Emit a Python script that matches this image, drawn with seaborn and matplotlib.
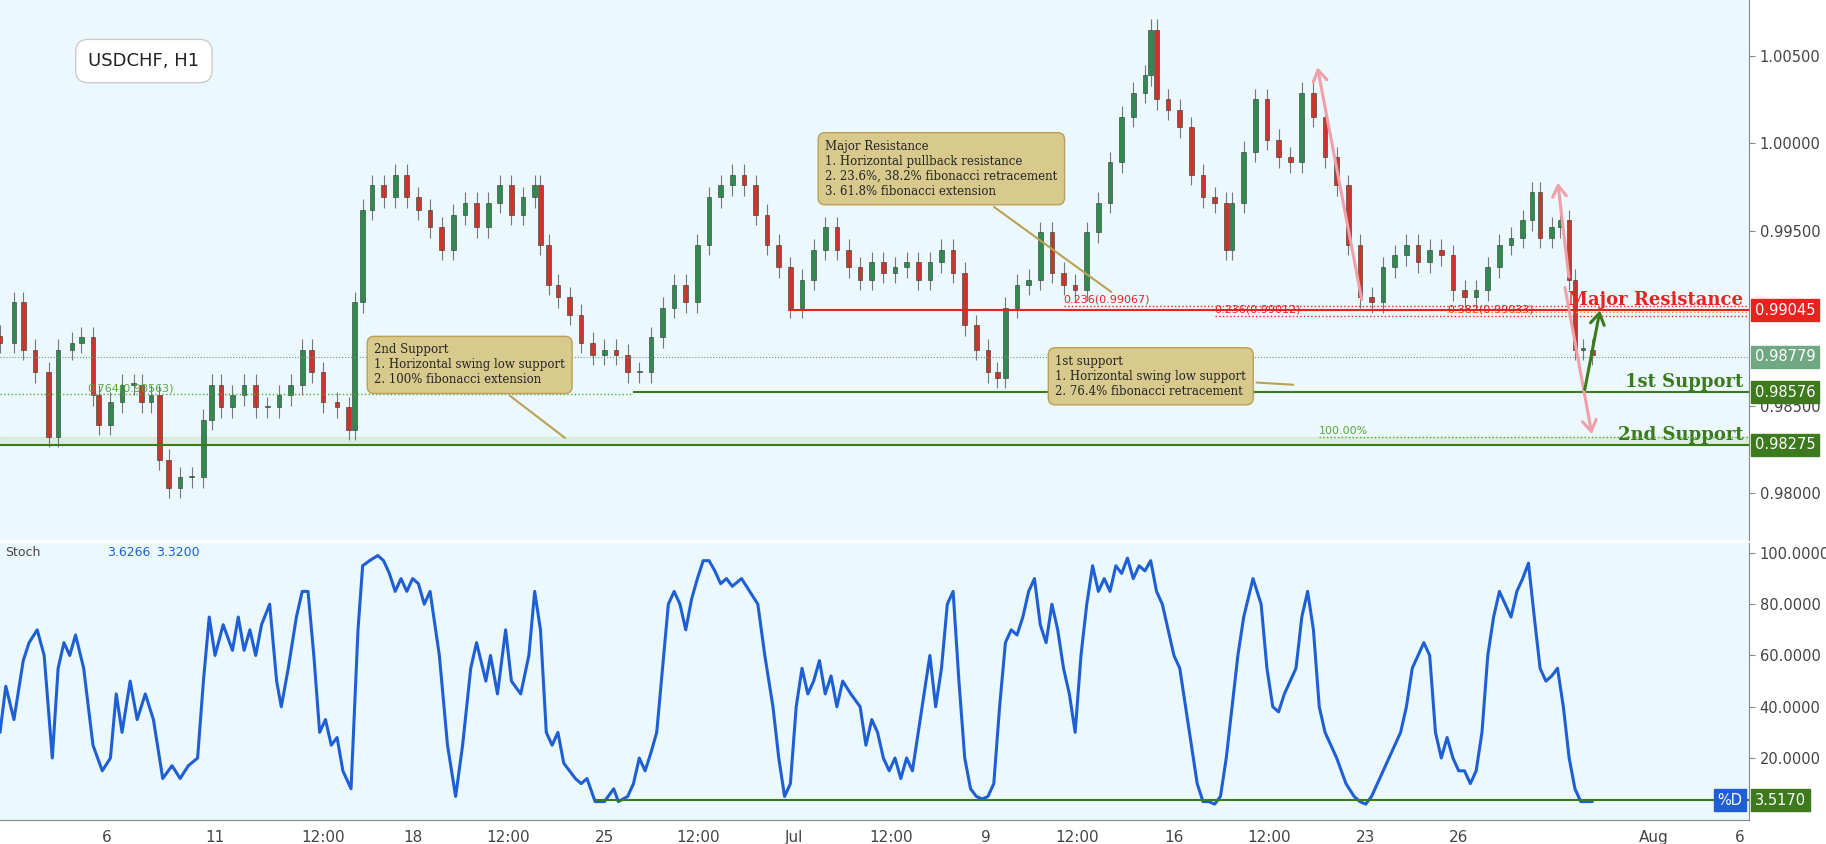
import seaborn as sns
import pandas as pd
import numpy as np
import matplotlib
matplotlib.use("Agg")
import matplotlib.pyplot as plt

# данные: время в условных единицах оси (0..1505), цены закрытия
bar_x = [0, 12, 20, 30, 42, 50, 62, 70, 80, 85, 95, 105, 115, 122, 130, 137, 145, 155, 165, 175,
         182, 190, 200, 210, 220, 230, 240, 250, 260, 268, 278, 290, 300, 305, 312, 320, 330, 340, 350, 360,
         370, 380, 390, 400, 410, 420, 430, 440, 450, 460, 465, 472, 480, 490, 500, 510, 520, 530, 540, 550,
         560, 570, 580, 590, 600, 610, 620, 630, 640, 650, 660, 670, 680, 690, 700, 710, 720, 730, 740, 750,
         760, 770, 780, 790, 800, 810, 820, 830, 840, 850, 858, 865, 875, 885, 895, 905, 915, 925, 935, 945,
         955, 965, 975, 985, 990, 995, 1005, 1015, 1025, 1035, 1045, 1055, 1060, 1070, 1080, 1090, 1100, 1110, 1120, 1130,
         1140, 1150, 1160, 1170, 1180, 1190, 1200, 1210, 1220, 1230, 1240, 1250, 1260, 1270, 1280, 1290, 1300, 1310, 1318, 1325,
         1335, 1342, 1350, 1355, 1362, 1370]
close = [0.9886, 0.9909, 0.9882, 0.9869, 0.9832, 0.9882, 0.9886, 0.9889, 0.9856, 0.9839, 0.9852, 0.9862, 0.9862, 0.9852, 0.9856, 0.9819, 0.9803, 0.9809, 0.9809, 0.9842,
         0.9862, 0.9849, 0.9856, 0.9862, 0.9849, 0.9849, 0.9856, 0.9862, 0.9882, 0.9869, 0.9852, 0.9849, 0.9836, 0.9909, 0.9962, 0.9976, 0.9969, 0.9982, 0.9969, 0.9962,
         0.9952, 0.9939, 0.9959, 0.9966, 0.9952, 0.9966, 0.9976, 0.9959, 0.9969, 0.9976, 0.9942, 0.9919, 0.9912, 0.9902, 0.9886, 0.9879, 0.9882, 0.9879, 0.9869, 0.9869,
         0.9889, 0.9906, 0.9919, 0.9909, 0.9942, 0.9969, 0.9976, 0.9982, 0.9976, 0.9959, 0.9942, 0.9929, 0.9906, 0.9922, 0.9939, 0.9952, 0.9939, 0.9929, 0.9922, 0.9932,
         0.9926, 0.9929, 0.9932, 0.9922, 0.9932, 0.9939, 0.9926, 0.9896, 0.9882, 0.9869, 0.9866, 0.9906, 0.9919, 0.9922, 0.9949, 0.9926, 0.9919, 0.9916, 0.9949, 0.9966,
         0.9989, 1.0015, 1.0029, 1.0039, 1.0065, 1.0025, 1.0019, 1.0009, 0.9982, 0.9969, 0.9966, 0.9939, 0.9966, 0.9995, 1.0025, 1.0002, 0.9992, 0.9989, 1.0029, 1.0015,
         0.9992, 0.9976, 0.9942, 0.9912, 0.9909, 0.9929, 0.9936, 0.9942, 0.9932, 0.9939, 0.9936, 0.9916, 0.9912, 0.9916, 0.9929, 0.9942, 0.9946, 0.9956, 0.9972, 0.9946,
         0.9952, 0.9956, 0.9922, 0.9882, 0.9882, 0.9879]

stoch_x = [0, 5, 12, 20, 25, 32, 38, 45, 50, 55, 60, 65, 72, 80, 88, 95, 100, 105, 112, 118, 125, 132, 140, 148, 155, 162, 170, 175, 180, 185,
           192, 200, 205, 210, 215, 220, 225, 232, 238, 242, 248, 255, 260, 265, 270, 275, 280, 285, 290, 295, 302, 308, 312, 318, 325, 330, 335, 340, 345, 350,
           355, 360, 365, 370, 378, 385, 392, 398, 405, 410, 418, 422, 428, 435, 440, 448, 455, 460, 465, 470, 475, 480, 485, 490, 495, 500, 505, 512, 520, 528,
           532, 540, 545, 550, 555, 560, 565, 570, 575, 580, 585, 590, 595, 600, 605, 610, 615, 620, 625, 630, 638, 645, 652, 658, 665, 670, 675, 680, 685, 690,
           695, 700, 705, 710, 715, 720, 725, 732, 740, 745, 750, 755, 760, 765, 770, 775, 780, 785, 790, 795, 800, 805, 810, 815, 820, 825, 830, 835, 840, 845,
           850, 855, 860, 865, 870, 875, 880, 885, 890, 895, 900, 905, 910, 915, 920, 925, 930, 935, 940, 945, 950, 955, 960, 965, 970, 975, 980, 985, 990, 995,
           1000, 1005, 1010, 1015, 1020, 1025, 1030, 1035, 1040, 1045, 1050, 1055, 1060, 1065, 1070, 1078, 1085, 1090, 1095, 1100, 1105, 1110, 1115, 1120, 1125, 1130, 1135, 1140, 1145, 1150,
           1158, 1165, 1170, 1175, 1180, 1185, 1190, 1195, 1200, 1205, 1210, 1215, 1220, 1225, 1230, 1235, 1240, 1245, 1250, 1255, 1260, 1265, 1270, 1275, 1280, 1285, 1290, 1295, 1300, 1305,
           1310, 1315, 1320, 1325, 1330, 1335, 1340, 1345, 1350, 1355, 1360, 1365, 1370]
stoch_d = [30, 48, 35, 58, 65, 70, 60, 20, 55, 65, 60, 68, 55, 25, 15, 20, 45, 30, 50, 35, 45, 35, 12, 17, 12, 17, 20, 50, 75, 60,
           72, 62, 75, 62, 70, 60, 72, 80, 50, 40, 55, 75, 85, 85, 60, 30, 35, 25, 28, 15, 8, 70, 95, 97, 99, 97, 92, 85, 90, 85,
           90, 88, 80, 85, 60, 25, 5, 25, 55, 65, 50, 60, 45, 70, 50, 45, 60, 85, 70, 30, 25, 30, 18, 15, 12, 10, 12, 3, 3, 8,
           3, 5, 10, 20, 15, 22, 30, 55, 80, 85, 80, 70, 82, 90, 97, 97, 93, 88, 90, 87, 90, 85, 80, 60, 40, 20, 5, 10, 40, 55,
           45, 50, 58, 45, 52, 40, 50, 45, 40, 25, 35, 30, 20, 15, 20, 12, 20, 15, 30, 45, 60, 40, 55, 80, 85, 50, 20, 8, 5, 4,
           5, 10, 40, 65, 70, 68, 75, 85, 90, 72, 65, 80, 70, 55, 45, 30, 60, 80, 95, 85, 90, 85, 95, 92, 98, 90, 95, 93, 97, 85,
           80, 70, 60, 55, 40, 25, 10, 3, 3, 2, 5, 20, 40, 60, 75, 90, 80, 55, 40, 38, 45, 50, 55, 75, 85, 70, 40, 30, 25, 20,
           10, 5, 3, 2, 5, 10, 15, 20, 25, 30, 40, 55, 60, 65, 60, 30, 20, 28, 20, 15, 15, 10, 15, 30, 60, 75, 85, 80, 75, 85,
           90, 96, 75, 55, 50, 52, 55, 40, 20, 8, 3, 3, 3]

tick_pos = [92, 185, 278, 355, 437, 520, 601, 683, 767, 848, 927, 1010, 1092, 1175, 1255, 1423, 1497]
tick_lab = ["6", "11", "12:00", "18", "12:00", "25", "12:00", "Jul", "12:00", "9", "12:00", "16", "12:00", "23", "26", "Aug", "6"]

major_res = 0.99045
last_price = 0.98779
sup1 = 0.98576
sup2 = 0.98275

BG = "#ebf8fe"
RED = "#e8231f"
GREEN = "#3d7a1e"

sns.set_style("white")
fig = plt.figure(figsize=(18.26, 8.44), dpi=100, facecolor="white")
ax = fig.add_axes([0.0, 0.36, 0.958, 0.64])
ax2 = fig.add_axes([0.0, 0.029, 0.958, 0.328])
XMAX = 1505

# свечи
opens = [close[0] + 0.0004] + close[:-1]
wick = 0.0006
for x, o, c in zip(bar_x, opens, close):
    col = "#2f8a4e" if c >= o else "#c8372a"
    lo, hi = min(o, c), max(o, c)
    ax.vlines(x, lo - wick, hi + wick, color="#777777", lw=0.8, zorder=2)
    ax.bar(x, max(hi - lo, 0.00008), bottom=lo, width=4, color=col, edgecolor="#333333", lw=0.4, zorder=3)

ax.set_facecolor(BG)
ax.set_xlim(0, XMAX)
ax.set_ylim(0.9773, 1.00819)
ax.yaxis.tick_right()
ax.set_yticks([1.005, 1.0, 0.995, 0.985, 0.98])
ax.set_yticklabels(["1.00500", "1.00000", "0.99500", "0.98500", "0.98000"], fontsize=10.5, color="#444444")
ax.set_xticks([])
for s in ["top", "left", "bottom"]:
    ax.spines[s].set_visible(False)
ax.spines["right"].set_color("#888888")
ax.tick_params(axis="y", length=4, color="#888888")

# уровни
ax.hlines(major_res, 678, XMAX, color=RED, lw=1.5, zorder=4)
ax.hlines(0.99067, 915, XMAX, color=RED, lw=1, ls=":", zorder=4)
ax.hlines(0.99012, 1045, XMAX, color=RED, lw=1, ls=":", zorder=4)
ax.hlines(0.99033, 1245, XMAX, color="#e89a2a", lw=1, ls=":", zorder=4)
ax.text(915, 0.99075, "0.236(0.99067)", color=RED, fontsize=8, va="bottom")
ax.text(1045, 0.9902, "0.236(0.99012)", color=RED, fontsize=8, va="bottom")
ax.text(1245, 0.9902, "0.382(0.99033)", color=RED, fontsize=8, va="bottom")
ax.hlines(last_price, 0, XMAX, color="#6a9a80", lw=0.8, ls=":", zorder=4)
ax.hlines(sup1, 545, XMAX, color=GREEN, lw=1.5, zorder=4)
ax.hlines(0.98563, 0, 545, color="#5aa83a", lw=1, ls=":", zorder=4)
ax.text(75, 0.9857, "0.764(0.98563)", color="#5aa83a", fontsize=8, va="bottom")
ax.axhspan(sup2, 0.98322, color="#cfe8c8", alpha=0.6, zorder=1)
ax.hlines(sup2, 0, XMAX, color=GREEN, lw=1.5, zorder=4)
ax.hlines(0.98322, 1135, XMAX, color="#5aa83a", lw=1, ls=":", zorder=4)
ax.text(1135, 0.98325, "100.00%", color="#5aa83a", fontsize=8, va="bottom")

ax.text(1500, major_res + 0.00005, "Major Resistance", color=RED, fontsize=13, fontweight="bold",
        family="DejaVu Serif", ha="right", va="bottom")
ax.text(1500, sup1 + 0.00005, "1st Support", color=GREEN, fontsize=13, fontweight="bold",
        family="DejaVu Serif", ha="right", va="bottom")
ax.text(1500, sup2 + 0.00005, "2nd Support", color=GREEN, fontsize=13, fontweight="bold",
        family="DejaVu Serif", ha="right", va="bottom")

for val, col in [(major_res, RED), (last_price, "#6fa882"), (sup1, GREEN), (sup2, GREEN)]:
    ax.text(XMAX + 5, val, f"{val:.5f}", color="white", fontsize=10.5, va="center", ha="left",
            bbox=dict(boxstyle="square,pad=0.25", fc=col, ec=col), clip_on=False, zorder=6)

# стрелки
def arrow(a, p0, p1, col):
    a.annotate("", xy=p1, xytext=p0,
               arrowprops=dict(arrowstyle="->,head_width=0.5,head_length=0.8", color=col, lw=2.2), zorder=5)

arrow(ax, (1172, 0.9909), (1133, 1.0045), "#f0a0a8")
arrow(ax, (1350, 0.9922), (1340, 0.9979), "#f0a0a8")
arrow(ax, (1346, 0.9919), (1370, 0.9832), "#f0a0a8")
arrow(ax, (1363, sup1), (1377, 0.9906), GREEN)

# выноски
TAN = "#d8c98c"
def callout(x, y, txt, tip):
    ax.annotate(txt, xy=tip, xytext=(x, y), fontsize=8.5, family="DejaVu Serif", va="top", ha="left",
                bbox=dict(boxstyle="round,pad=0.6", fc=TAN, ec="#b9a155"),
                arrowprops=dict(arrowstyle="-", color="#b9a155", lw=1.5), zorder=7)

callout(710, 1.0002, "Major Resistance\n1. Horizontal pullback resistance\n2. 23.6%, 38.2% fibonacci retracement\n3. 61.8% fibonacci extension",
        (958, 0.9914))
callout(322, 0.98855, "2nd Support\n1. Horizontal swing low support\n2. 100% fibonacci extension", (488, 0.98305))
callout(908, 0.9879, "1st support\n1. Horizontal swing low support\n2. 76.4% fibonacci retracement", (1115, 0.98618))

ax.text(76, 1.0047, "USDCHF, H1", fontsize=13, color="#222222", va="center",
        bbox=dict(boxstyle="round,pad=0.7", fc="white", ec="#cccccc"), zorder=7)

# стохастик
df = pd.DataFrame({"x": stoch_x, "d": stoch_d})
sns.lineplot(data=df, x="x", y="d", ax=ax2, color="#1f5fd6", lw=2.2)
ax2.hlines(3.517, 512, XMAX, color=GREEN, lw=1.5)
ax2.set_facecolor(BG)
ax2.set_xlim(0, XMAX)
ax2.set_ylim(-4, 104)
ax2.yaxis.tick_right()
ax2.set_yticks([100, 80, 60, 40, 20])
ax2.set_yticklabels(["100.0000", "80.0000", "60.0000", "40.0000", "20.0000"], fontsize=10.5, color="#444444")
ax2.set_xticks(tick_pos)
ax2.set_xticklabels(tick_lab, fontsize=11, color="#444444")
ax2.set_xlabel("")
ax2.set_ylabel("")
for s in ["top", "left"]:
    ax2.spines[s].set_visible(False)
ax2.spines["right"].set_color("#888888")
ax2.spines["bottom"].set_color("#888888")
ax2.tick_params(length=4, color="#888888")
ax2.text(XMAX - 6, 3.517, "%D", color="white", fontsize=10.5, ha="right", va="center",
         bbox=dict(boxstyle="square,pad=0.25", fc="#1f5fd6", ec="#1f5fd6"))
ax2.text(XMAX + 5, 3.517, "3.5170", color="white", fontsize=10.5, ha="left", va="center",
         bbox=dict(boxstyle="square,pad=0.25", fc=GREEN, ec=GREEN), clip_on=False)
ax2.text(4, 100, "Stoch", fontsize=9, color="#444444", va="center")
ax2.text(92, 100, "3.6266", fontsize=9, color="#1f5fd6", va="center")
ax2.text(134, 100, "3.3200", fontsize=9, color="#1f5fd6", va="center")

fig.savefig("out.png", dpi=100, facecolor="white")
